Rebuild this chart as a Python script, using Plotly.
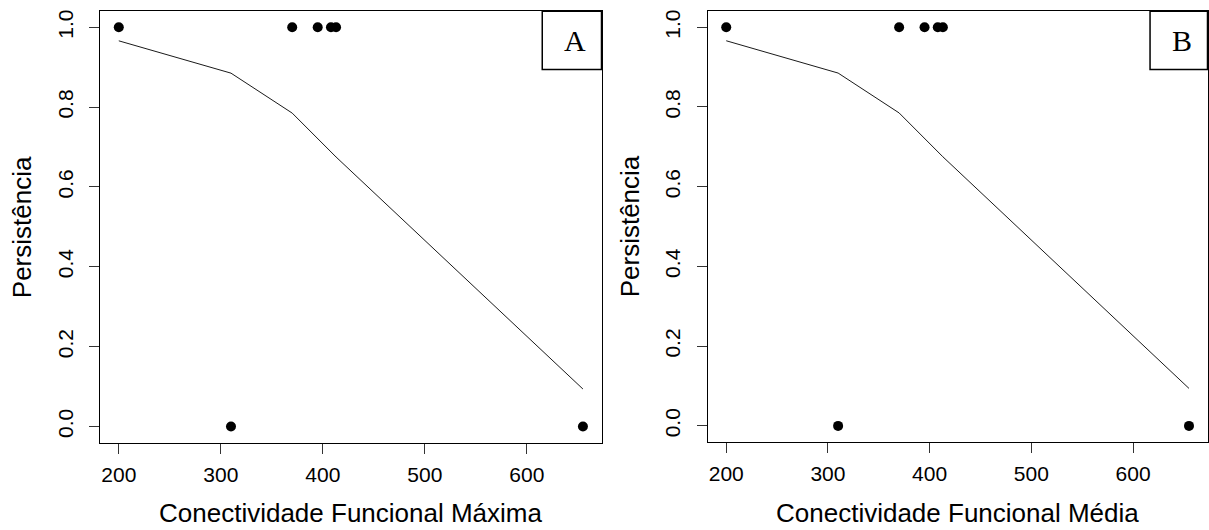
import plotly.graph_objects as go

# ---- data ----
conect = [200, 310, 370, 395, 408, 413, 655]          # x values (same in both panels)
persist = [1, 0, 1, 1, 1, 1, 0]                        # observed persistence
fitted = [0.966, 0.885, 0.785, 0.722, 0.688, 0.675, 0.094]  # fitted logistic curve
x_ticks = [200, 300, 400, 500, 600]
y_ticks = [0.0, 0.2, 0.4, 0.6, 0.8, 1.0]
y_ticktext = ["0.0", "0.2", "0.4", "0.6", "0.8", "1.0"]
panels = ["A", "B"]
x_titles = ["Conectividade Funcional Máxima", "Conectividade Funcional Média"]
y_title = "Persistência"

W, H = 1209, 530
# panel frames in pixels (left, right, top, bottom)
frames = [(100.3, 602.0, 9.3, 442.2), (708.3, 1208.5, 9.3, 441.5)]

fig = go.Figure()
span = max(conect) - min(conect)
xr = [min(conect) - 0.04 * span, max(conect) + 0.04 * span]

SANS = "Liberation Sans, Arial, sans-serif"
for i, (l, r, t, b) in enumerate(frames):
    n = "" if i == 0 else str(i + 1)
    xa, ya = "x" + n, "y" + n
    fig.add_trace(go.Scatter(x=conect, y=fitted, mode="lines",
                             line=dict(color="#1a1a1a", width=1),
                             xaxis=xa, yaxis=ya, showlegend=False, hoverinfo="skip"))
    fig.add_trace(go.Scatter(x=conect, y=persist, mode="markers",
                             marker=dict(color="black", size=10, line=dict(width=0)),
                             xaxis=xa, yaxis=ya, showlegend=False))
    axis_common = dict(showline=True, mirror=True, linecolor="black", linewidth=1,
                       ticks="outside", ticklen=10, tickwidth=1, tickcolor="#333",
                       showgrid=False, zeroline=False,
                       tickfont=dict(family=SANS, size=21, color="black"))
    fig.layout["xaxis" + n] = dict(axis_common, domain=[l / W, r / W], range=xr,
                                   tickvals=x_ticks, anchor=ya, ticklabelstandoff=3)
    fig.layout["yaxis" + n] = dict(axis_common, domain=[1 - b / H, 1 - t / H],
                                   range=[-0.04, 1.04], tickvals=y_ticks,
                                   ticktext=y_ticktext, tickangle=-90, anchor=xa,
                                   ticklabelstandoff=8)
    # x title
    fig.add_annotation(text=x_titles[i], xref="paper", yref="paper",
                       x=(l + r) / 2 / W, y=0, xanchor="center", yanchor="bottom",
                       showarrow=False, font=dict(family=SANS, size=26, color="black"))
    # y title
    fig.add_annotation(text=y_title, xref="paper", yref="paper",
                       x=(l - 78) / W, y=1 - (t + b) / 2 / H, xanchor="center", yanchor="middle",
                       textangle=-90, showarrow=False,
                       font=dict(family=SANS, size=26, color="black"))
    # panel letter box
    box_l = [542.7, 1151.0][i]
    fig.add_shape(type="rect", xref="paper", yref="paper",
                  x0=box_l / W, x1=r / W, y0=1 - 67.7 / H, y1=1 - t / H,
                  line=dict(color="black", width=1.5), fillcolor="white", layer="above")
    fig.add_annotation(text=panels[i], xref="paper", yref="paper",
                       x=((box_l + r) / 2 + 3) / W, y=1 - 39 / H, xanchor="center",
                       yanchor="middle", showarrow=False,
                       font=dict(family="Liberation Serif, Times New Roman, serif", size=30,
                                 color="black"))

fig.update_layout(width=W, height=H, margin=dict(l=0, r=0, t=0, b=0),
                  paper_bgcolor="white", plot_bgcolor="white", showlegend=False)
fig.write_html("out.html", config={"displayModeBar": False},
               post_script="document.body.style.margin='0';document.body.style.overflow='hidden';")
